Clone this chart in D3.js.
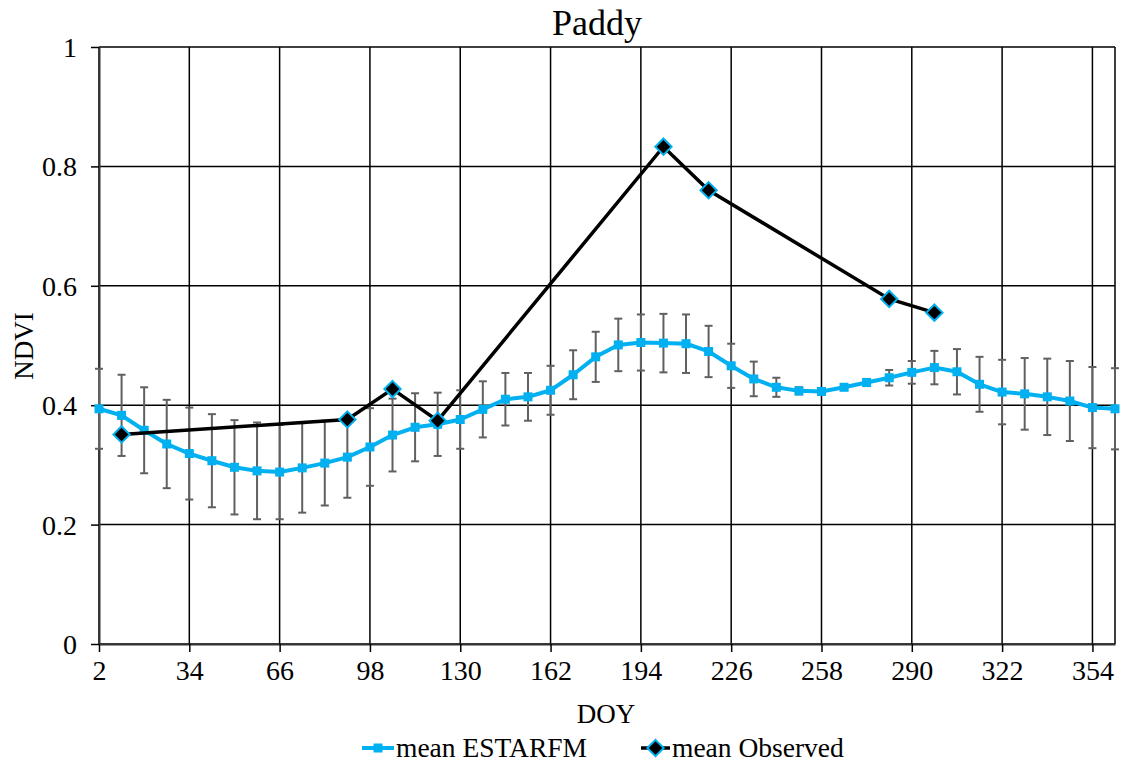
<!DOCTYPE html>
<html>
<head>
<meta charset="utf-8">
<script src="https://cdn.jsdelivr.net/npm/d3@7"></script>
<style>
  body { margin: 0; background: #fff; }
  text { font-family: "Liberation Serif", "Times New Roman", serif; fill: #000; }
</style>
</head>
<body>
<div id="chart"></div>
<script>
const doy = [2, 10, 18, 26, 34, 42, 50, 58, 66, 74, 82, 90, 98, 106, 114, 122, 130, 138, 146, 154,
  162, 170, 178, 186, 194, 202, 210, 218, 226, 234, 242, 250, 258, 266, 274, 282, 290, 298,
  306, 314, 322, 330, 338, 346, 354, 362];
const estarfmMean = [0.394, 0.383, 0.358, 0.335, 0.319, 0.307, 0.296, 0.290, 0.288, 0.295, 0.303,
  0.313, 0.330, 0.350, 0.363, 0.368, 0.376, 0.393, 0.410, 0.414, 0.425, 0.451, 0.481, 0.501,
  0.505, 0.504, 0.503, 0.490, 0.466, 0.444, 0.430, 0.424, 0.423, 0.430, 0.438, 0.446, 0.455,
  0.463, 0.456, 0.435, 0.422, 0.419, 0.414, 0.407, 0.396, 0.394];
const estarfmSd = [0.067, 0.068, 0.072, 0.074, 0.077, 0.078, 0.079, 0.081, 0.079, 0.075, 0.071,
  0.068, 0.065, 0.061, 0.057, 0.053, 0.049, 0.047, 0.044, 0.040, 0.041, 0.041, 0.042, 0.044,
  0.047, 0.049, 0.049, 0.043, 0.037, 0.029, 0.016, 0.006, 0.004, 0.004, 0.006, 0.013, 0.019,
  0.028, 0.038, 0.046, 0.054, 0.060, 0.064, 0.067, 0.068, 0.068];
const obsDoy = [10, 90, 106, 122, 202, 218, 282, 298];
const obsMean = [0.351, 0.376, 0.427, 0.374, 0.833, 0.760, 0.578, 0.555];
const xTicks = [2, 34, 66, 98, 130, 162, 194, 226, 258, 290, 322, 354];
const yTicks = [0, 0.2, 0.4, 0.6, 0.8, 1];
const seriesNames = ["mean ESTARFM", "mean Observed"];

const w = 1128, h = 767;
const margin = {top: 47, right: 13, bottom: 123, left: 99};
const blue = "#00B0F0";

const svg = d3.select("#chart").append("svg")
  .attr("width", w)
  .attr("height", h);

const x = d3.scaleLinear().domain([2, 362]).range([margin.left, w - margin.right]);
const y = d3.scaleLinear().domain([0, 1]).range([h - margin.bottom, margin.top]);

// grid
svg.append("g")
  .selectAll("line")
  .data(xTicks)
  .enter().append("line")
  .attr("x1", d => x(d)).attr("x2", d => x(d))
  .attr("y1", y(0)).attr("y2", y(1))
  .attr("stroke", "#000").attr("stroke-width", 1.5);

svg.append("g")
  .selectAll("line")
  .data(yTicks)
  .enter().append("line")
  .attr("x1", x(2)).attr("x2", x(362))
  .attr("y1", d => y(d)).attr("y2", d => y(d))
  .attr("stroke", "#000").attr("stroke-width", 1.5);

// right border
svg.append("line")
  .attr("x1", x(362)).attr("x2", x(362))
  .attr("y1", y(0)).attr("y2", y(1))
  .attr("stroke", "#000").attr("stroke-width", 1.5);

// axes
const xAxis = d3.axisBottom(x).tickValues(xTicks).tickSize(8).tickSizeOuter(0).tickPadding(8);
const yAxis = d3.axisLeft(y).tickValues(yTicks).tickSize(8).tickSizeOuter(0).tickPadding(14)
  .tickFormat(d => d3.format("")(+d.toFixed(1)));

const gx = svg.append("g")
  .attr("transform", `translate(0,${y(0)})`)
  .call(xAxis);
const gy = svg.append("g")
  .attr("transform", `translate(${x(2)},0)`)
  .call(yAxis);

[gx, gy].forEach(g => {
  g.attr("font-family", null).attr("font-size", null);
  g.select(".domain").attr("stroke", "#333").attr("stroke-width", 2);
  g.selectAll(".tick line").attr("stroke", "#000").attr("stroke-width", 1.5);
  g.selectAll(".tick text")
    .attr("font-size", 28)
    .attr("fill", "#000");
});
gy.selectAll(".tick text").attr("dy", "0.34em");

// error bars
const est = doy.map((d, i) => ({doy: d, mean: estarfmMean[i], sd: estarfmSd[i]}));
const eb = svg.append("g").attr("stroke", "#606060").attr("stroke-width", 2);
est.forEach(d => {
  eb.append("line")
    .attr("x1", x(d.doy)).attr("x2", x(d.doy))
    .attr("y1", y(d.mean - d.sd)).attr("y2", y(d.mean + d.sd));
  [d.mean - d.sd, d.mean + d.sd].forEach(v => {
    eb.append("line")
      .attr("x1", x(d.doy) - 4).attr("x2", x(d.doy) + 4)
      .attr("y1", y(v)).attr("y2", y(v));
  });
});

// ESTARFM line
const line = d3.line().x(d => x(d.doy)).y(d => y(d.mean));
svg.append("path")
  .datum(est)
  .attr("d", line)
  .attr("fill", "none")
  .attr("stroke", blue)
  .attr("stroke-width", 4)
  .attr("stroke-linejoin", "round");

svg.append("g")
  .selectAll("rect")
  .data(est)
  .enter().append("rect")
  .attr("x", d => x(d.doy) - 4.5)
  .attr("y", d => y(d.mean) - 4.5)
  .attr("width", 9).attr("height", 9)
  .attr("fill", blue);

// observed line
const obs = obsDoy.map((d, i) => ({doy: d, mean: obsMean[i]}));
svg.append("path")
  .datum(obs)
  .attr("d", line)
  .attr("fill", "none")
  .attr("stroke", "#000")
  .attr("stroke-width", 3.5);

const diamond = d3.symbol().type(d3.symbolDiamond2).size(170);
svg.append("g")
  .selectAll("path")
  .data(obs)
  .enter().append("path")
  .attr("transform", d => `translate(${x(d.doy)},${y(d.mean)})`)
  .attr("d", diamond)
  .attr("fill", "#000")
  .attr("stroke", blue)
  .attr("stroke-width", 2);

// title + axis labels
svg.append("text")
  .attr("x", 597).attr("y", 35)
  .attr("text-anchor", "middle")
  .attr("font-size", 36)
  .text("Paddy");

svg.append("text")
  .attr("x", 606).attr("y", 723)
  .attr("text-anchor", "middle")
  .attr("font-size", 27)
  .text("DOY");

svg.append("text")
  .attr("transform", "translate(33,346) rotate(-90)")
  .attr("text-anchor", "middle")
  .attr("font-size", 27)
  .text("NDVI");

// legend
const legend = svg.append("g").attr("transform", "translate(0,748)");
const lg1 = legend.append("g").attr("transform", "translate(362,0)");
lg1.append("line").attr("x1", 0).attr("x2", 32).attr("stroke", blue).attr("stroke-width", 4);
lg1.append("rect").attr("x", 11.5).attr("y", -4.5).attr("width", 9).attr("height", 9).attr("fill", blue);
lg1.append("text").attr("x", 34).attr("y", 9).attr("font-size", 27.5).text(seriesNames[0]);

const lg2 = legend.append("g").attr("transform", "translate(641,0)");
lg2.append("line").attr("x1", 0).attr("x2", 29).attr("stroke", "#000").attr("stroke-width", 3.5);
lg2.append("path").attr("transform", "translate(14.5,0)").attr("d", diamond)
  .attr("fill", "#000").attr("stroke", blue).attr("stroke-width", 2);
lg2.append("text").attr("x", 31).attr("y", 9).attr("font-size", 27.5).text(seriesNames[1]);
</script>
</body>
</html>
